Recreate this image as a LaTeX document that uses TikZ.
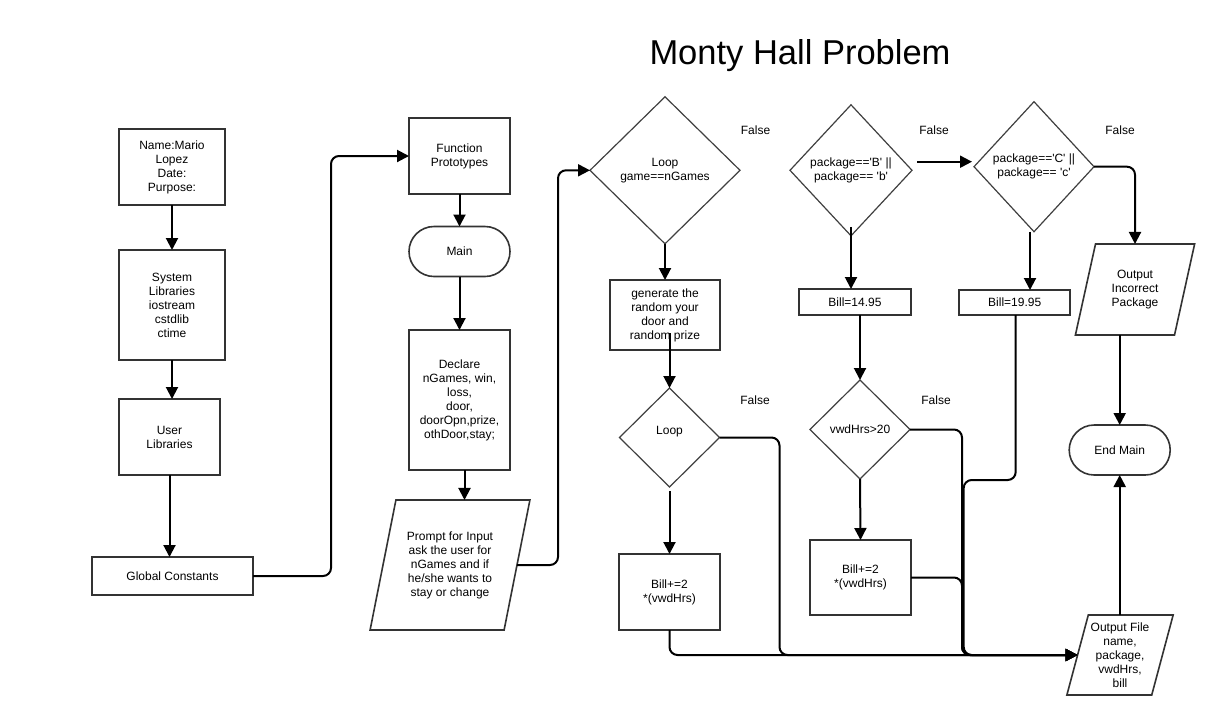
\documentclass[tikz,border=0pt]{standalone}
\usepackage{fontspec}
\setmainfont{Liberation Sans}
\usetikzlibrary{shapes.geometric,arrows.meta}

\begin{document}
\begin{tikzpicture}[x=1pt,y=-1pt,
    every node/.style={font=\fontsize{12}{14}\selectfont,align=center,inner sep=0pt,outer sep=0pt},
    box/.style={draw=black!80,line width=1.6pt,rectangle},
    term/.style={draw=black!80,line width=1.6pt,rectangle,rounded corners=25pt},
    dec/.style={draw=black!75,line width=1.2pt,diamond},
    io/.style={draw=black!80,line width=1.6pt,trapezium,trapezium left angle=73,trapezium right angle=107,trapezium stretches=true},
    link/.style={line width=2pt,rounded corners=8pt,-{Triangle[length=12pt,width=12pt]}}]
    \fill[white] (0,0) rectangle (1206,716);
    \node[font=\fontsize{34.5}{40}\selectfont] (title) at (800,56) {Monty Hall Problem};
    \node[box,minimum width=106,minimum height=76] (name) at (172,167) {Name:Mario\\Lopez\\Date:\\Purpose:};
    \node[box,minimum width=106,minimum height=110] (sys) at (172,305) {System\\Libraries\\iostream\\cstdlib\\ctime};
    \node[box,minimum width=101,minimum height=76] (user) at (169.5,437) {User\\Libraries};
    \node[box,minimum width=161,minimum height=38] (glob) at (172.5,576) {Global Constants};
    \node[box,minimum width=101,minimum height=76] (func) at (459.5,156) {Function\\Prototypes};
    \node[term,minimum width=101,minimum height=50] (main) at (459.5,251.5) {Main};
    \node[box,minimum width=101,minimum height=140] (decl) at (459.5,400) {Declare\\nGames, win,\\loss,\\door,\\doorOpn,prize,\\othDoor,stay;};
    \node[io,minimum width=160,minimum height=130] (prompt) at (450,565) {Prompt for Input\\ask the user for\\nGames and if\\he/she wants to\\stay or change};
    \node[dec,minimum width=150,minimum height=147] (lg) at (665,170.3) {Loop\\game==nGames};
    \node[box,minimum width=110,minimum height=70] (gen) at (665,315) {generate the\\random your\\door and\\random prize};
    \node[dec,minimum width=100,minimum height=99] (loop) at (669.5,437.5) {Loop\\\mbox{}};
    \node[box,minimum width=101,minimum height=76] (billA) at (669.5,592) {Bill+=2\\*(vwdHrs)};
    \node[dec,minimum width=122,minimum height=131] (pkgB) at (851,170.3) {package==\textquotesingle B\textquotesingle\ ||\\package== \textquotesingle b\textquotesingle};
    \node[box,minimum width=112,minimum height=26] (bill1) at (855,302) {Bill=14.95};
    \node[dec,minimum width=100,minimum height=99] (vwd) at (860,429.5) {vwdHrs>20};
    \node[box,minimum width=101,minimum height=75] (billB) at (860.5,577.5) {Bill+=2\\*(vwdHrs)};
    \node[dec,minimum width=120,minimum height=130] (pkgC) at (1034,166.7) {package==\textquotesingle C\textquotesingle\ ||\\package== \textquotesingle c\textquotesingle};
    \node[box,minimum width=111,minimum height=25] (bill2) at (1014.7,302.5) {Bill=19.95};
    \node[io,minimum width=120,minimum height=91] (bad) at (1135,289.5) {Output\\Incorrect\\Package};
    \node[term,minimum width=101,minimum height=50] (endm) at (1119.7,450) {End Main};
    \node[io,minimum width=107,minimum height=80] (out) at (1120,655) {Output File\\name,\\package,\\vwdHrs,\\bill};
    \node (fLg) at (755.5,130) {False};
    \node (fB) at (934,130) {False};
    \node (fC) at (1120,130) {False};
    \node (fLoop) at (755,400) {False};
    \node (fVwd) at (936,400) {False};
    \draw[link] (name) -- (sys);
    \draw[link] (sys.south) -- (sys.south |- user.north);
    \draw[link] (user.south) -- (user.south |- glob.north);
    \draw[link] (glob.east) -- ++(78,0) |- (func.west);
    \draw[link] (func) -- (main);
    \draw[link] (main) -- (decl);
    \draw[link] ([xshift=5pt]decl.south) -- ([xshift=5pt]decl.south |- prompt.north);
    \draw[link] (prompt.east) -- ++(41,0) |- (lg.west);
    \draw[link] (lg) -- (gen);
    \draw[link] ([yshift=17pt]gen.south -| loop.north) -- (loop.north);
    \draw[link] ([yshift=-4pt]loop.south) -- (billA.north);
    \draw[link] (billA.south) |- (out.west);
    \draw[link] (loop.east) -- ++(60,0) |- (out.west);
    \draw[link] ([yshift=9pt]pkgB.south) -- (pkgB.south |- bill1.north);
    \draw[link] ([xshift=5pt,yshift=5pt]pkgB.east |- pkgC.west) -- ([xshift=-2pt,yshift=5pt]pkgC.west);
    \draw[link] (bill1.south -| vwd.north) -- (vwd.north);
    \draw[link] (vwd.south) -- (billB.north);
    \draw[link] (vwd.east) -- ++(52,0) |- (out.west);
    \draw[link] (billB.east) -- ++(51,0) |- (out.west);
    \draw[link] ([xshift=-4pt]pkgC.south) -- ([xshift=-4pt]pkgC.south |- bill2.north);
    \draw[link] ([xshift=1pt]bill2.south) -- ++(0,165) -- ++(-52,0) |- (out.west);
    \draw[link] (pkgC.east) -| (bad.center |- bad.north);
    \draw[link] (endm.north |- bad.south) -- (endm.north);
    \draw[link] (endm.south |- out.north) -- (endm.south);
\end{tikzpicture}
\end{document}
